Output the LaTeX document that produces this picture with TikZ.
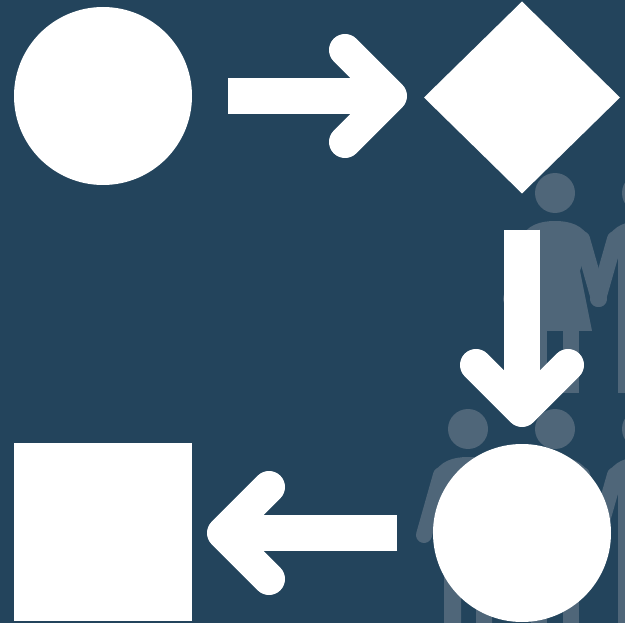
\documentclass[tikz,border=0pt]{standalone}
\usepackage{xcolor}
\usetikzlibrary{arrows.meta,shapes.geometric}
\definecolor{cnavy}{HTML}{23445C}
\definecolor{cfigure}{HTML}{4F6679}
\begin{document}
\begin{tikzpicture}[
    x=1pt, y=-1pt,
    token/.style={fill=white, inner sep=0pt, outer sep=0pt},
    startnode/.style={token, circle, minimum size=178pt},
    decision/.style={token, diamond, minimum width=196pt, minimum height=192pt},
    endnode/.style={token, rectangle, minimum size=178pt},
    flow/.style={draw=white, line width=36pt,
        -{Straight Barb[round, length=46pt, width=92pt, line width=32pt]}},
    arm/.style={cfigure, line width=16pt, line cap=round},
    woman/.pic={
        \fill[cfigure] (0,0) circle (20);
        \fill[cfigure] (-35,46) .. controls (-28,32) and (-15,28) .. (0,28)
            .. controls (15,28) and (28,32) .. (35,46) -- (25,78) -- (37,138)
            -- (-37,138) -- (-25,78) -- cycle;
        \fill[cfigure] (-24,130) rectangle (-8,200);
        \fill[cfigure] (8,130) rectangle (24,200);
        \draw[arm] (-27,46) -- (-44,106);
        \draw[arm] (27,46) -- (44,106);
    },
    man/.pic={
        \fill[cfigure] (0,0) circle (20);
        \fill[cfigure] (-35,46) .. controls (-28,32) and (-15,28) .. (0,28)
            .. controls (15,28) and (28,32) .. (35,46) -- (24,66) -- (24,200)
            -- (8,200) -- (8,125) -- (-7,125) -- (-7,200) -- (-24,200)
            -- (-24,66) -- cycle;
        \draw[arm] (-27,46) -- (-44,106);
        \draw[arm] (27,46) -- (44,106);
    },
]
\useasboundingbox (0,0) rectangle (625,623);
\clip (0,0) rectangle (625,623);
\fill[cnavy] (0,0) rectangle (625,623);
% figures behind the flow
\pic at (555,193) {woman};
\pic at (642,193) {man};
\pic at (468,429) {man};
\pic at (555,429) {woman};
\pic at (642,429) {man};
% flow
\node[startnode] (start) at (103,96) {};
\node[decision] (choice) at (522,97.5) {};
\node[startnode] (stop) at (522,533) {};
\node[endnode] (result) at (103,532) {};
\draw[flow, shorten <=36pt, shorten >=17pt] (start) -- (start -| choice.west);
\draw[flow, shorten <=36pt, shorten >=17pt] (choice) -- (stop);
\draw[flow, shorten <=36pt, shorten >=15pt] (stop) -- (stop -| result.east);
\end{tikzpicture}
\end{document}
